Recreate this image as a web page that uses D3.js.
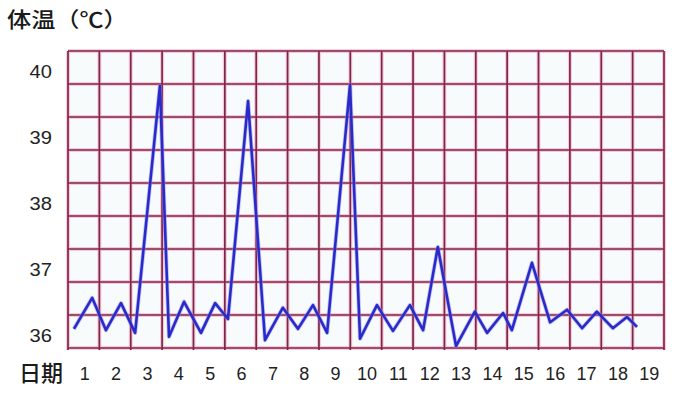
<!DOCTYPE html>
<html><head><meta charset="utf-8">
<script src="https://cdn.jsdelivr.net/npm/d3@7"></script>
<style>html,body{margin:0;padding:0;background:#fff;}svg{display:block;}</style>
</head><body>
<svg id="chart" width="682" height="407"></svg>
<script>
// ---- data ----
const dayLabels = ["1","2","3","4","5","6","7","8","9","10","11","12","13","14","15","16","17","18","19"];
const yTickValues = [36, 37, 38, 39, 40];
// reading times (in days from the start of day 1) and body temperatures (°C)
const readingTimes = [0.19,0.77,1.21,1.69,2.14,2.93,3.22,3.70,4.24,4.69,5.10,5.74,6.28,6.85,7.33,7.81,8.26,8.99,9.31,9.85,10.36,10.90,11.32,11.79,12.37,12.97,13.36,13.87,14.15,14.79,15.37,15.91,16.39,16.86,17.37,17.82,18.14];
const temperatures = [36.29,36.76,36.27,36.68,36.23,39.97,36.17,36.70,36.23,36.68,36.44,39.74,36.12,36.61,36.29,36.65,36.23,39.98,36.14,36.65,36.26,36.65,36.27,37.53,36.03,36.55,36.23,36.53,36.27,37.29,36.39,36.58,36.30,36.55,36.30,36.47,36.32];
const yTitle = "体温（℃）";
const xTitle = "日期";

(function(){
// ---- layout ----
const svg = d3.select("#chart");
const pLeft = 68, pRight = 664, pTop = 51, pBottom = 348;
const x = d3.scaleLinear().domain([0, dayLabels.length]).range([pLeft, pRight]);
const y = d3.scaleLinear().domain([36, 40.5]).range([pBottom, pTop]);

svg.append("rect").attr("x", pLeft).attr("y", pTop).attr("width", pRight-pLeft).attr("height", pBottom-pTop).attr("fill", "#f8fbfc");

const vLines = d3.range(0, dayLabels.length + 1);
const hLines = d3.range(36, 40.51, 0.5);

const grid = svg.append("g");
function drawGrid(stroke, width, opacity){
  const g = grid.append("g").attr("stroke", stroke).attr("stroke-width", width).attr("opacity", opacity);
  g.selectAll("line.v").data(vLines).join("line").attr("class","v")
    .attr("x1", d => x(d)).attr("x2", d => x(d)).attr("y1", pTop).attr("y2", pBottom + 2);
  g.selectAll("line.h").data(hLines).join("line").attr("class","h")
    .attr("x1", pLeft).attr("x2", pRight).attr("y1", d => y(d)).attr("y2", d => y(d));
}
drawGrid("#f3a9c4", 4, 0.6);
drawGrid("#7e2648", 1.7, 1);

// ---- temperature line ----
const pts = readingTimes.map((t, i) => [t, temperatures[i]]);
const line = d3.line().x(d => x(d[0])).y(d => y(d[1]));
svg.append("path").datum(pts).attr("d", line).attr("fill", "none")
  .attr("stroke", "#8c8cf0").attr("stroke-width", 4.2).attr("opacity", 0.5).attr("stroke-linejoin", "round");
svg.append("path").datum(pts).attr("d", line).attr("fill", "none")
  .attr("stroke", "#2a2ac8").attr("stroke-width", 2.6).attr("stroke-linejoin", "round");

// ---- axis labels ----
const font = "'Liberation Sans', Arial, sans-serif";
svg.append("g").selectAll("text").data(yTickValues).join("text")
  .attr("transform", d => `translate(52,${y(d) - 12}) scale(1.12,1)`).attr("dy", "0.35em")
  .attr("text-anchor", "end").attr("font-family", font).attr("font-size", 18)
  .attr("fill", "#222").text(d => d);

svg.append("g").selectAll("text").data(dayLabels).join("text")
  .attr("x", (d, i) => x(i + 0.5) + 1).attr("y", 374).attr("dy", "0.35em")
  .attr("text-anchor", "middle").attr("font-family", font).attr("font-size", 18)
  .attr("fill", "#222").text(d => d);

svg.append("text").attr("transform", "translate(7,27) scale(1.15,1)")
  .attr("font-family", "'Noto Sans CJK SC', sans-serif").attr("font-weight", 500)
  .attr("font-size", 21).attr("fill", "#1a1a1a").text(yTitle);
svg.append("text").attr("x", 19).attr("y", 381).attr("font-family", "'Noto Sans CJK SC', sans-serif")
  .attr("font-weight", 500).attr("font-size", 22).attr("fill", "#1a1a1a").text(xTitle);
})();
</script>
</body></html>
